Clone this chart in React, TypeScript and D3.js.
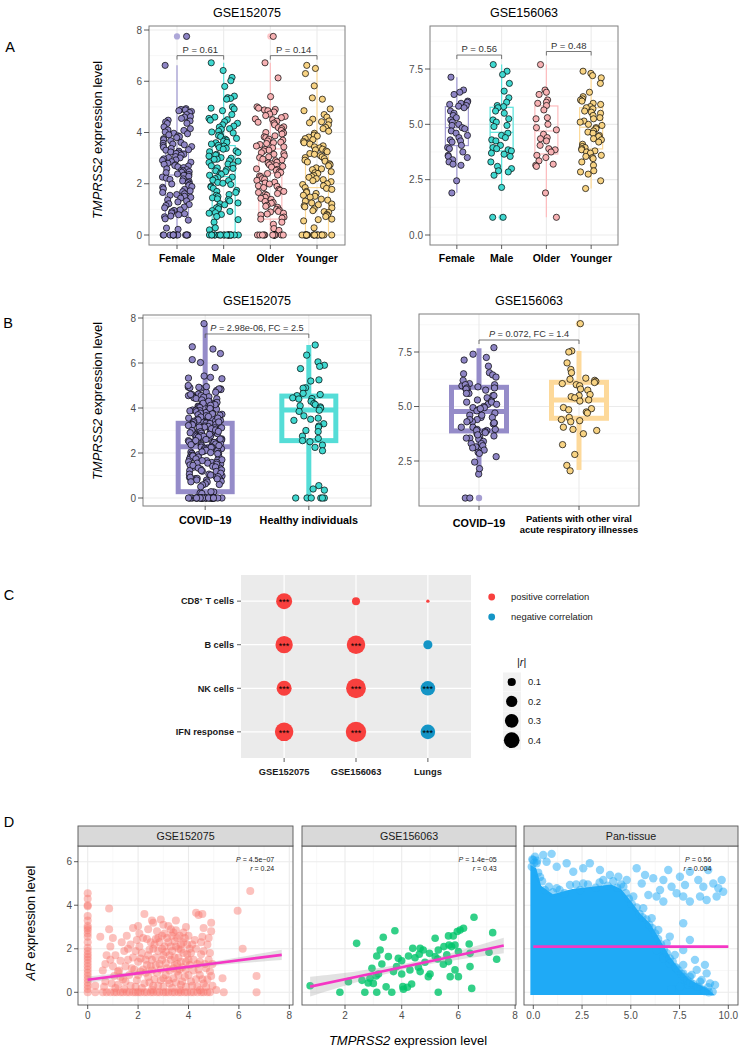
import { useEffect, useRef } from 'react';
import * as d3 from 'd3';

const FONT = "'Liberation Sans', Arial, Helvetica, sans-serif";

// ---------- A / B : TMPRSS2 expression by group ----------
const sexAgeGroups = ['Female', 'Male', 'Older', 'Younger'];

const female152075 = [7.75, 6.62, 4.93, 4.9, 4.88, 4.85, 4.82, 4.78, 4.7, 4.62, 4.6, 4.55, 4.48, 4.45, 4.41, 4.36, 4.35, 4.22, 4.15, 4.1, 4.08, 4.02, 3.97, 3.95, 3.91, 3.87, 3.84, 3.8, 3.76, 3.72, 3.68, 3.61, 3.58, 3.55, 3.52, 3.49, 3.45, 3.42, 3.38, 3.33, 3.31, 3.27, 3.24, 3.2, 3.18, 3.15, 3.12, 3.06, 3.02, 3.01, 2.97, 2.93, 2.91, 2.86, 2.84, 2.8, 2.76, 2.74, 2.71, 2.69, 2.66, 2.63, 2.58, 2.55, 2.52, 2.5, 2.47, 2.45, 2.43, 2.38, 2.36, 2.33, 2.29, 2.26, 2.22, 2.19, 2.17, 2.11, 2.08, 2.04, 1.99, 1.98, 1.93, 1.89, 1.86, 1.8, 1.78, 1.72, 1.69, 1.66, 1.61, 1.58, 1.55, 1.51, 1.47, 1.44, 1.37, 1.33, 1.29, 1.22, 1.19, 1.15, 1.09, 1.06, 0.98, 0.96, 0.91, 0.86, 0.83, 0.79, 0.74, 0.71, 0.63, 0.58, 0.27, 0.22, 0, 0, 0, 0, 0, 0, 0, 0, 0, 0, 0, 0, 0];
const male152075 = [6.72, 6.42, 6.15, 6.02, 5.8, 5.42, 5.36, 5.33, 5.3, 5.0, 4.95, 4.92, 4.85, 4.7, 4.6, 4.55, 4.5, 4.48, 4.42, 4.36, 4.3, 4.25, 4.21, 4.15, 4.12, 4.05, 4.02, 3.98, 3.9, 3.88, 3.84, 3.77, 3.74, 3.7, 3.66, 3.62, 3.6, 3.55, 3.5, 3.47, 3.41, 3.38, 3.35, 3.28, 3.25, 3.22, 3.15, 3.12, 3.08, 3.02, 3.0, 2.96, 2.95, 2.9, 2.88, 2.83, 2.77, 2.74, 2.7, 2.62, 2.6, 2.55, 2.5, 2.47, 2.4, 2.37, 2.33, 2.26, 2.24, 2.2, 2.14, 2.12, 2.05, 2.02, 1.97, 1.9, 1.87, 1.82, 1.74, 1.7, 1.66, 1.58, 1.55, 1.5, 1.45, 1.41, 1.38, 1.33, 1.25, 1.22, 1.18, 1.1, 1.06, 1.02, 0.95, 0.92, 0.87, 0.85, 0.8, 0.72, 0.6, 0.5, 0.28, 0.2, 0, 0, 0, 0, 0, 0, 0, 0, 0, 0, 0, 0, 0, 0, 0, 0, 0, 0, 0, 0];
const older152075 = [7.75, 6.72, 6.13, 5.4, 5.0, 4.95, 4.9, 4.88, 4.85, 4.8, 4.72, 4.66, 4.63, 4.58, 4.53, 4.5, 4.44, 4.4, 4.37, 4.3, 4.22, 4.19, 4.15, 4.08, 4.0, 3.98, 3.94, 3.87, 3.83, 3.8, 3.74, 3.7, 3.67, 3.62, 3.6, 3.57, 3.53, 3.47, 3.44, 3.4, 3.34, 3.31, 3.28, 3.21, 3.18, 3.15, 3.09, 3.05, 3.02, 2.96, 2.93, 2.9, 2.84, 2.81, 2.78, 2.74, 2.71, 2.68, 2.65, 2.58, 2.56, 2.52, 2.46, 2.44, 2.4, 2.34, 2.3, 2.27, 2.2, 2.17, 2.13, 2.06, 2.03, 1.99, 1.92, 1.9, 1.85, 1.78, 1.74, 1.7, 1.66, 1.62, 1.59, 1.55, 1.47, 1.43, 1.39, 1.31, 1.27, 1.24, 1.16, 1.12, 1.08, 1.0, 0.97, 0.92, 0.9, 0.85, 0.82, 0.78, 0.7, 0.66, 0.62, 0.5, 0.42, 0.25, 0.18, 0, 0, 0, 0, 0, 0, 0, 0, 0, 0, 0, 0, 0];
const younger152075 = [6.62, 6.5, 6.3, 5.82, 5.35, 5.3, 4.92, 4.85, 4.7, 4.6, 4.52, 4.45, 4.42, 4.38, 4.3, 4.2, 4.15, 4.05, 3.97, 3.9, 3.86, 3.82, 3.76, 3.72, 3.65, 3.6, 3.55, 3.48, 3.44, 3.4, 3.35, 3.32, 3.28, 3.25, 3.18, 3.15, 3.1, 3.05, 3.02, 2.98, 2.92, 2.88, 2.85, 2.78, 2.74, 2.7, 2.62, 2.58, 2.55, 2.47, 2.43, 2.4, 2.32, 2.28, 2.25, 2.2, 2.16, 2.12, 2.08, 2.0, 1.97, 1.92, 1.85, 1.82, 1.78, 1.7, 1.66, 1.62, 1.55, 1.51, 1.48, 1.4, 1.36, 1.32, 1.25, 1.21, 1.18, 1.14, 1.1, 1.06, 1.02, 0.95, 0.91, 0.88, 0.8, 0.76, 0.72, 0.62, 0.6, 0.55, 0.28, 0, 0, 0, 0, 0, 0, 0, 0, 0, 0, 0, 0, 0, 0, 0, 0, 0, 0];
// [lower whisker, Q1, median, Q3, upper whisker]
const box152075 = [[0, 0.74, 2.34, 3.29, 6.62], [0, 0, 2.28, 3.49, 6.72], [0, 0.62, 2.41, 3.36, 6.72], [0, 0, 1.85, 3.12, 6.62]];
const outliers152075 = [[7.75], [], [7.75], []];

const female156063 = [7.13, 6.55, 6.45, 6.35, 6.05, 6.0, 5.95, 5.9, 5.85, 5.82, 5.75, 5.6, 5.5, 5.4, 5.3, 5.2, 5.1, 5.0, 4.95, 4.85, 4.8, 4.7, 4.6, 4.5, 4.4, 4.3, 4.25, 4.2, 4.05, 3.95, 3.9, 3.75, 3.6, 3.55, 3.5, 3.4, 3.3, 3.2, 3.15, 2.45, 1.9];
const male156063 = [7.7, 7.4, 7.25, 6.85, 6.5, 6.2, 6.0, 5.85, 5.8, 5.75, 5.6, 5.5, 5.25, 5.2, 5.1, 4.95, 4.9, 4.6, 4.5, 4.4, 4.3, 4.25, 4.05, 3.95, 3.9, 3.85, 3.8, 3.7, 3.65, 3.55, 3.3, 3.1, 3.0, 2.9, 2.85, 2.7, 2.15, 0.8, 0.8];
const older156063 = [7.7, 6.55, 6.45, 6.35, 6.1, 6.0, 5.95, 5.85, 5.65, 5.3, 5.25, 5.0, 4.85, 4.75, 4.55, 4.4, 4.35, 4.25, 4.05, 3.9, 3.85, 3.75, 3.6, 3.5, 3.35, 3.2, 3.15, 3.1, 1.9, 0.8];
const younger156063 = [7.4, 7.3, 7.2, 7.1, 6.85, 6.45, 6.25, 6.15, 6.1, 6.05, 5.95, 5.9, 5.8, 5.75, 5.7, 5.6, 5.55, 5.5, 5.4, 5.3, 5.25, 5.15, 5.1, 5.0, 4.95, 4.85, 4.8, 4.7, 4.65, 4.6, 4.5, 4.45, 4.35, 4.3, 4.2, 4.1, 4.0, 3.95, 3.9, 3.85, 3.8, 3.75, 3.7, 3.6, 3.55, 3.5, 3.45, 3.3, 3.15, 2.9, 2.85, 2.75, 2.45, 2.1];
const box156063 = [[1.91, 4.04, 4.85, 5.8, 7.13], [2.15, 3.8, 4.64, 5.77, 7.7], [0.8, 3.66, 4.7, 5.83, 7.7], [2.1, 3.89, 4.87, 5.75, 7.42]];
const outliers156063 = [[], [0.8], [], []];

const groups152075 = ['COVID−19', 'Healthy individuals'];
const healthy152075 = [6.8, 6.35, 6.05, 5.9, 5.85, 5.75, 5.25, 5.2, 4.9, 4.88, 4.65, 4.6, 4.55, 4.45, 4.42, 4.4, 4.3, 4.2, 4.15, 4.1, 4.05, 4.0, 3.9, 3.85, 3.65, 3.55, 3.5, 3.45, 3.3, 3.2, 3.15, 3.0, 2.95, 2.75, 2.65, 2.55, 2.5, 2.35, 2.25, 2.1, 0.55, 0.4, 0.35, 0, 0, 0, 0, 0, 0];
const covid152075 = female152075.concat(male152075);
const boxCovid152075 = [[0, 0.28, 2.28, 3.32, 7.75], [0, 2.55, 3.91, 4.53, 6.8]];

const groups156063 = ['COVID−19', 'Patients with other viral acute respiratory illnesses'];
const patients156063 = [8.8, 7.55, 7.5, 7.0, 6.7, 6.55, 6.3, 6.25, 6.2, 6.15, 6.1, 6.05, 6.0, 5.95, 5.8, 5.75, 5.55, 5.5, 5.45, 5.4, 5.3, 5.25, 4.95, 4.9, 4.85, 4.75, 4.7, 4.5, 4.4, 4.35, 4.3, 4.05, 3.95, 3.9, 3.75, 3.25, 2.8, 2.3, 2.05];
const covid156063 = female156063.concat(male156063);
const boxCovid156063 = [[1.93, 3.88, 4.77, 5.88, 7.67], [2.09, 4.46, 5.3, 6.11, 7.55]];
const outliersCovid156063 = [[0.8], [8.8]];

// ---------- C : correlation bubbles ----------
const cellTypes = ['CD8+ T cells', 'B cells', 'NK cells', 'IFN response'];
const datasets = ['GSE152075', 'GSE156063', 'Lungs'];
const corrR = [
  [0.40, 0.09, 0.005],
  [0.47, 0.54, -0.12],
  [0.35, 0.62, -0.33],
  [0.54, 0.66, -0.33],
];
const corrStars = [
  ['***', '', ''],
  ['***', '***', ''],
  ['***', '***', '***'],
  ['***', '***', '***'],
];
const sizeBreaks = [0.1, 0.2, 0.3, 0.4];

// ---------- D : AR vs TMPRSS2 ----------
const scatter152075 = [
  [0, 4.55], [0, 4.3], [0, 4.0], [0, 3.95], [0, 3.5], [0, 3.3], [0, 3.05], [0, 2.95], [0, 2.85], [0, 2.7], [0, 2.55], [0, 2.3], [0, 2.05],
  [0, 1.9], [0, 1.75], [0, 1.62], [0, 1.5], [0, 1.35], [0, 1.2], [0, 1.05], [0, 0.9], [0, 0.75], [0, 0.6], [0, 0.45], [0, 0.3], [0, 0.15],
  [0, 0], [0.3, 0.3], [0.3, 0],
  [0.6, 0], [0.75, 0], [0.9, 0], [1.05, 0], [1.15, 0], [1.3, 0], [1.4, 0], [1.55, 0], [1.65, 0], [1.8, 0], [1.9, 0], [2.0, 0],
  [2.1, 0], [2.25, 0], [2.35, 0], [2.5, 0], [2.6, 0], [2.75, 0], [2.85, 0], [3.0, 0], [3.1, 0], [3.2, 0], [3.35, 0], [3.45, 0],
  [3.6, 0], [3.7, 0], [3.85, 0], [3.95, 0], [4.1, 0], [4.2, 0], [4.35, 0], [4.5, 0], [4.6, 0], [4.75, 0], [4.85, 0], [5.4, 0], [6.7, 0],
  [0.5, 2.55], [0.6, 1.0], [0.7, 0.5], [0.75, 1.7], [0.85, 3.85], [0.85, 2.9], [0.9, 2.1], [0.95, 0.4], [1.0, 1.2], [1.05, 0.75],
  [1.1, 1.7], [1.2, 0.35], [1.25, 1.0], [1.3, 1.45], [1.35, 2.3], [1.4, 0.6], [1.45, 1.9], [1.5, 1.2], [1.6, 2.0], [1.65, 0.8],
  [1.7, 0.3], [1.8, 2.95], [1.8, 1.6], [1.85, 1.05], [1.95, 2.4], [1.95, 0.55], [2.0, 1.4], [2.05, 2.7], [2.1, 0.95], [2.15, 1.8],
  [2.2, 1.05], [2.25, 3.6], [2.25, 0.4], [2.3, 1.5], [2.35, 2.45], [2.4, 0.7], [2.45, 1.95], [2.5, 1.2], [2.55, 3.3], [2.6, 3.2],
  [2.6, 0.3], [2.65, 2.2], [2.7, 1.6], [2.7, 2.45], [2.75, 0.9], [2.8, 2.5], [2.85, 1.3], [2.9, 0.55], [2.95, 2.0], [3.0, 1.7],
  [3.0, 3.1], [3.05, 2.7], [3.1, 0.8], [3.15, 1.1], [3.2, 3.05], [3.2, 2.3], [3.25, 0.4], [3.3, 2.9], [3.3, 1.5], [3.35, 1.9],
  [3.4, 2.75], [3.4, 0.65], [3.45, 1.25], [3.5, 2.85], [3.5, 2.1], [3.55, 0.95], [3.6, 1.6], [3.65, 2.6], [3.7, 0.35], [3.7, 1.95],
  [3.75, 1.15], [3.8, 2.75], [3.8, 2.3], [3.85, 0.7], [3.9, 1.4], [3.9, 3.0], [3.95, 1.75], [4.0, 1.5], [4.05, 2.0], [4.1, 0.5],
  [4.2, 1.0], [4.25, 2.4], [4.3, 3.65], [4.35, 1.3], [4.4, 3.55], [4.45, 0.8], [4.5, 1.75], [4.55, 3.6], [4.55, 2.55], [4.6, 2.95],
  [4.6, 0.4], [4.7, 1.1], [4.75, 2.2], [4.8, 1.5], [4.85, 0.95], [4.9, 3.2], [4.9, 2.8], [4.9, 0.75], [5.35, 0.65], [5.95, 3.75],
  [6.15, 2.0], [6.45, 4.65], [6.7, 0.75],
  [1.5, 0.5], [1.6, 1.5], [1.7, 2.2], [1.75, 1.1], [1.9, 0.25], [1.9, 1.9], [2.0, 0.8], [2.05, 2.1], [2.1, 1.55], [2.15, 0.2],
  [2.2, 2.5], [2.3, 0.9], [2.35, 1.25], [2.4, 1.7], [2.4, 2.9], [2.45, 0.45], [2.5, 2.3], [2.55, 1.0], [2.55, 1.5], [2.6, 2.0],
  [2.65, 0.6], [2.7, 1.25], [2.75, 2.8], [2.8, 0.3], [2.8, 1.9], [2.85, 2.3], [2.9, 1.05], [2.95, 1.5], [2.95, 2.6], [3.0, 0.25],
  [3.0, 0.65], [3.05, 2.1], [3.1, 1.35], [3.1, 1.85], [3.15, 2.5], [3.2, 0.55], [3.25, 1.0], [3.25, 1.7], [3.3, 2.1], [3.35, 0.2],
  [3.35, 2.6], [3.4, 1.1], [3.45, 1.6], [3.45, 2.35], [3.5, 0.45], [3.55, 1.3], [3.55, 2.5], [3.6, 0.8], [3.6, 2.0], [3.65, 1.05],
  [3.7, 1.4], [3.7, 2.2], [3.75, 0.5], [3.8, 1.8], [3.85, 2.5], [3.9, 0.25], [3.9, 1.05], [3.95, 2.2], [4.0, 0.8], [4.0, 2.6],
  [4.05, 1.25], [4.1, 1.8], [4.15, 0.3], [4.15, 2.2], [4.2, 1.5], [4.3, 0.6], [4.3, 2.0], [4.35, 0.25], [4.4, 1.05], [4.45, 1.4],
  [4.5, 2.3], [4.55, 0.6], [4.6, 1.9], [4.65, 1.3], [4.7, 0.25], [4.75, 0.6], [4.8, 2.5], [4.85, 1.8], [1.1, 0.2], [1.3, 0.7],
  [1.0, 2.5], [0.7, 1.3], [1.55, 2.6], [2.0, 3.05], [2.9, 3.35], [3.5, 3.3], [1.2, 0.95], [0.65, 0.25], [0.9, 1.5], [4.95, 1.3],
  [4.95, 0.3], [5.1, 0.1], [1.45, 0.15], [2.55, 0.12], [3.65, 0.12], [4.45, 0.1],
];
const scatter156063 = [
  [6.55, 3.45], [6.06, 2.86], [6.18, 2.94], [5.96, 2.79], [5.82, 2.59], [3.76, 2.83], [3.35, 2.53], [5.18, 2.48], [5.65, 2.59],
  [5.67, 2.17], [5.49, 2.1], [5.76, 2.1], [5.88, 2.17], [6.38, 2.22], [7.21, 2.74], [4.65, 2.02], [4.39, 2.02], [4.76, 1.94],
  [5.29, 1.94], [3.24, 1.94], [3.12, 1.67], [3.53, 1.64], [3.88, 1.56], [4.0, 1.45], [4.24, 1.67], [4.47, 1.59], [4.62, 1.75],
  [4.98, 1.79], [5.18, 1.64], [5.59, 1.72], [6.0, 1.87], [6.41, 1.79], [7.08, 1.84], [7.35, 1.52], [4.82, 1.38], [5.27, 1.53],
  [5.65, 1.41], [5.47, 1.29], [4.59, 1.15], [3.82, 1.18], [3.71, 0.95], [4.0, 0.84], [4.29, 1.03], [4.65, 0.95], [5.0, 0.84],
  [4.94, 0.72], [5.88, 1.03], [6.41, 1.18], [5.71, 0.72], [6.0, 0.72], [2.88, 0.64], [3.18, 0.84], [3.0, 0.41], [4.04, 0.26],
  [4.35, 0.38], [4.2, 0.23], [3.65, 0.0], [4.06, 0.14], [5.29, 0.0], [6.47, 0.18], [3.12, 0.0], [2.41, 2.25], [0.77, 0.3],
  [1.82, 0.0], [2.12, 0.49], [2.7, 0.0], [2.82, 0.43], [2.95, 1.1], [3.1, 0.75], [2.6, 0.55], [3.3, 1.3], [3.45, 0.25],
];
// dense core of the pan-tissue cloud: upper edge of the solid region
const panCoreX = [-0.15, -0.15, 0.15, 0.4, 1, 2, 3, 4, 4.5, 5, 5.5, 6, 6.5, 7, 7.5, 8, 8.5, 9, 9.3];
const panCoreTop = [-0.12, 5.85, 5.7, 4.9, 4.5, 4.75, 4.85, 4.95, 4.75, 4.2, 3.6, 3.15, 2.4, 1.65, 1.05, 0.6, 0.35, 0.12, -0.12];
const panOutskirts = [
  [0.09, 6.23], [0.51, 6.31], [0.94, 6.36], [0.17, 5.93], [0.68, 6.0], [1.2, 5.77], [1.71, 5.93], [2.05, 5.54], [2.56, 5.7],
  [2.9, 5.93], [3.42, 5.62], [3.93, 5.39], [4.36, 5.31], [4.79, 5.16], [5.3, 5.7], [5.73, 5.39], [5.56, 5.0], [6.15, 5.24],
  [6.67, 5.16], [6.92, 5.62], [7.09, 4.85], [7.52, 5.31], [7.78, 4.93], [8.03, 5.54], [8.46, 5.16], [8.72, 4.85], [8.97, 5.62],
  [9.23, 5.0], [9.49, 4.78], [9.66, 5.16], [8.55, 4.4], [8.89, 4.24], [8.03, 4.17], [7.69, 4.4], [6.67, 4.17], [6.5, 4.7],
  [7.35, 4.55], [9.4, 4.4], [9.74, 4.62], [6.32, 4.4], [5.9, 4.47], [7.69, 3.17], [7.0, 2.56], [8.03, 2.4], [7.69, 1.94],
  [8.29, 1.49], [8.8, 1.26], [8.38, 1.03], [8.89, 0.87], [9.32, 0.34], [9.06, 0.41], [8.63, 0.57], [8.03, 0.72], [7.69, 0.87],
  [7.35, 1.1], [7.0, 1.33], [6.67, 1.56], [6.32, 1.94], [8.46, 0.26], [7.95, 0.34], [7.52, 0.26], [7.09, 0.14], [8.72, 0.11],
  [1.2, 4.78], [1.88, 4.93], [2.56, 5.0], [3.59, 5.16], [4.62, 4.85], [5.13, 4.4], [5.64, 3.86], [6.07, 3.4], [6.41, 2.86],
  [6.84, 2.25], [7.26, 1.72], [7.69, 1.26], [8.12, 0.8], [8.55, 0.49], [8.97, 0.23], [-0.08, 5.77], [0, 6.08], [0.35, 5.3],
  [0.25, 5.5], [0.45, 5.1], [0.6, 4.7], [0.8, 4.85], [1.0, 4.6], [1.35, 4.7], [1.6, 4.55], [2.2, 4.95], [2.4, 4.7], [2.8, 4.95],
  [3.2, 4.8], [3.4, 5.05], [3.8, 4.9], [4.1, 5.1], [4.3, 4.8], [4.5, 4.95], [4.75, 4.55], [4.9, 4.3], [5.05, 4.05], [5.3, 3.9],
  [5.45, 3.6], [5.6, 3.45], [5.8, 3.35], [5.95, 3.1], [6.1, 2.95], [6.25, 2.7], [6.4, 2.45], [6.55, 2.2], [6.7, 1.95], [6.85, 1.8],
  [7.0, 1.55], [7.15, 1.4], [7.3, 1.15], [7.45, 1.0], [7.6, 0.85], [7.75, 0.7], [7.9, 0.55], [8.05, 0.45], [8.2, 0.38], [8.4, 0.25],
  [8.6, 0.15], [8.8, 0.05], [9.0, 0.0], [9.2, 0.02], [0.05, 5.95], [-0.05, 6.1], [0.2, 6.05],
];
// fitted lines with confidence half-widths
const fit152075 = { x: [0, 2.5, 5, 7.7], y: [0.58, 0.95, 1.32, 1.72], ci: [0.15, 0.07, 0.1, 0.24] };
const fit156063 = { x: [0.77, 2.5, 4.5, 6, 7.6], y: [0.26, 0.74, 1.29, 1.7, 2.15], ci: [0.45, 0.24, 0.12, 0.2, 0.36] };
const fitPan = { x: [0, 10], y: [2.1, 2.1], ci: [0.03, 0.03] };

const jitter = (i: number, k: number) => {
  const s = Math.sin(i * 127.1 + k * 311.7) * 43758.5453;
  return s - Math.floor(s) - 0.5;
};

function rich(g: any, x: number, y: number, parts: [string, boolean][], size: number, anchor = 'middle', fill = '#000') {
  const t = g.append('text').attr('x', x).attr('y', y).attr('text-anchor', anchor)
    .attr('font-family', FONT).attr('font-size', size).attr('fill', fill);
  parts.forEach(([s, it]) => t.append('tspan').text(s).attr('font-style', it ? 'italic' : 'normal'));
  return t;
}

function boxPanel(root: any, o: any) {
  const g = root.append('g');
  const x = d3.scalePoint<string>().domain(o.cats).range([o.left, o.right]).padding(0.6);
  const y = d3.scaleLinear().domain(o.yDomain).range(o.yRange);
  g.append('rect').attr('x', o.left).attr('y', o.top).attr('width', o.right - o.left).attr('height', o.bottom - o.top).attr('fill', '#fff');
  o.yMinor.forEach((v: number) => g.append('line').attr('x1', o.left).attr('x2', o.right).attr('y1', y(v)).attr('y2', y(v))
    .attr('stroke', '#F4F4F4').attr('stroke-width', 0.6));
  o.yTicks.forEach((v: number) => g.append('line').attr('x1', o.left).attr('x2', o.right).attr('y1', y(v)).attr('y2', y(v))
    .attr('stroke', '#EBEBEB').attr('stroke-width', 1.1));
  o.cats.forEach((c: string) => g.append('line').attr('x1', x(c)).attr('x2', x(c)).attr('y1', o.top).attr('y2', o.bottom)
    .attr('stroke', '#EBEBEB').attr('stroke-width', 1.1));
  o.cats.forEach((c: string, i: number) => {
    const [lo, q1, med, q3, hi] = o.stats[i];
    const cx = x(c)!;
    const col = o.lines[i];
    const sw = o.boxSW;
    g.append('line').attr('x1', cx).attr('x2', cx).attr('y1', y(q3)).attr('y2', y(hi)).attr('stroke', col).attr('stroke-width', sw);
    g.append('line').attr('x1', cx).attr('x2', cx).attr('y1', y(q1)).attr('y2', y(lo)).attr('stroke', col).attr('stroke-width', sw);
    g.append('rect').attr('x', cx - o.boxW / 2).attr('y', y(q3)).attr('width', o.boxW).attr('height', y(q1) - y(q3))
      .attr('fill', 'none').attr('stroke', col).attr('stroke-width', sw);
    g.append('line').attr('x1', cx - o.boxW / 2).attr('x2', cx + o.boxW / 2).attr('y1', y(med)).attr('y2', y(med))
      .attr('stroke', col).attr('stroke-width', sw);
    (o.outliers[i] || []).forEach((v: number) => g.append('circle').attr('cx', cx).attr('cy', y(v)).attr('r', o.r)
      .attr('fill', col).attr('opacity', 0.85));
  });
  o.cats.forEach((c: string, i: number) => {
    const cx = x(c)!;
    o.values[i].forEach((v: number, j: number) => {
      g.append('circle').attr('cx', cx + jitter(j, i + o.seed) * 2 * o.jit).attr('cy', y(v)).attr('r', o.r)
        .attr('fill', o.fills[i]).attr('stroke', '#000').attr('stroke-width', 0.7);
    });
  });
  g.append('rect').attr('x', o.left).attr('y', o.top).attr('width', o.right - o.left).attr('height', o.bottom - o.top)
    .attr('fill', 'none').attr('stroke', '#7F7F7F').attr('stroke-width', 1);
  o.yTicks.forEach((v: number) => {
    if (y(v) < o.top || y(v) > o.bottom) return;
    g.append('line').attr('x1', o.left - 5).attr('x2', o.left).attr('y1', y(v)).attr('y2', y(v)).attr('stroke', '#333').attr('stroke-width', 0.8);
    g.append('text').attr('x', o.left - 7).attr('y', y(v) + 3.5).attr('text-anchor', 'end').attr('font-family', FONT)
      .attr('font-size', 10).attr('fill', '#4D4D4D').text(o.fmt(v));
  });
  o.cats.forEach((c: string, i: number) => {
    g.append('line').attr('x1', x(c)).attr('x2', x(c)).attr('y1', o.bottom).attr('y2', o.bottom + 4).attr('stroke', '#333').attr('stroke-width', 0.8);
    o.labels[i].forEach((ln: string, k: number) => g.append('text').attr('x', x(c)).attr('y', o.labelY[i] + k * o.labelLH)
      .attr('text-anchor', 'middle').attr('font-family', FONT).attr('font-weight', 'bold')
      .attr('font-size', o.labelSize[i]).attr('fill', '#000').text(ln));
  });
  o.brackets.forEach((b: any) => {
    const x1 = x(o.cats[b.from])!, x2 = x(o.cats[b.to])!, by = y(b.v);
    g.append('path').attr('d', `M${x1},${by + 4}V${by}H${x2}V${by + 4}`).attr('fill', 'none')
      .attr('stroke', '#555').attr('stroke-width', 0.8);
    rich(g, (x1 + x2) / 2, by - 3, b.label, b.size, 'middle', '#333');
  });
  g.append('text').attr('x', (o.left + o.right) / 2).attr('y', o.titleY).attr('text-anchor', 'middle')
    .attr('font-family', FONT).attr('font-size', 12.5).attr('fill', '#000').text(o.title);
}

function scatterPanel(root: any, o: any, yS: any) {
  const g = root.append('g');
  const x = d3.scaleLinear().domain(o.xDomain).range(o.xRange);
  const top = 846, bottom = 1005;
  g.append('rect').attr('x', o.left).attr('y', top).attr('width', o.right - o.left).attr('height', bottom - top).attr('fill', '#fff');
  [1, 3, 5].forEach(v => g.append('line').attr('x1', o.left).attr('x2', o.right).attr('y1', yS(v)).attr('y2', yS(v))
    .attr('stroke', '#F4F4F4').attr('stroke-width', 0.6));
  o.xMinor.forEach((v: number) => g.append('line').attr('x1', x(v)).attr('x2', x(v)).attr('y1', top).attr('y2', bottom)
    .attr('stroke', '#F4F4F4').attr('stroke-width', 0.6));
  [0, 2, 4, 6].forEach(v => g.append('line').attr('x1', o.left).attr('x2', o.right).attr('y1', yS(v)).attr('y2', yS(v))
    .attr('stroke', '#EBEBEB').attr('stroke-width', 1.1));
  o.xTicks.forEach((v: number) => g.append('line').attr('x1', x(v)).attr('x2', x(v)).attr('y1', top).attr('y2', bottom)
    .attr('stroke', '#EBEBEB').attr('stroke-width', 1.1));
  const clipId = 'clip-' + o.id;
  root.append('clipPath').attr('id', clipId).append('rect').attr('x', o.left).attr('y', top)
    .attr('width', o.right - o.left).attr('height', bottom - top);
  const inner = g.append('g').attr('clip-path', `url(#${clipId})`);
  if (o.coreX) {
    const area = d3.area<number>().x((_, i) => x(o.coreX[i])).y0(() => yS(-0.12)).y1(d => yS(d));
    inner.append('path').datum(o.coreTop).attr('d', area).attr('fill', o.color);
  }
  o.points.forEach(([px, py]: number[]) => inner.append('circle').attr('cx', x(px)).attr('cy', yS(py)).attr('r', o.r)
    .attr('fill', o.color).attr('opacity', o.alpha));
  const band = d3.area<number>().curve(d3.curveNatural).x((_, i) => x(o.fit.x[i]))
    .y0((d, i) => yS(d - o.fit.ci[i])).y1((d, i) => yS(d + o.fit.ci[i]));
  inner.append('path').datum(o.fit.y).attr('d', band).attr('fill', '#9E9E9E').attr('opacity', 0.3);
  const line = d3.line<number>().x((_, i) => x(o.fit.x[i])).y(d => yS(d));
  inner.append('path').datum(o.fit.y).attr('d', line).attr('fill', 'none').attr('stroke', '#F536C4').attr('stroke-width', 2.6);
  g.append('rect').attr('x', o.left).attr('y', top).attr('width', o.right - o.left).attr('height', bottom - top)
    .attr('fill', 'none').attr('stroke', '#555').attr('stroke-width', 0.9);
  g.append('rect').attr('x', o.left).attr('y', 826).attr('width', o.right - o.left).attr('height', 20)
    .attr('fill', '#D9D9D9').attr('stroke', '#555').attr('stroke-width', 0.9);
  g.append('text').attr('x', (o.left + o.right) / 2).attr('y', 840).attr('text-anchor', 'middle').attr('font-family', FONT)
    .attr('font-size', 10.7).attr('fill', '#1A1A1A').text(o.strip);
  o.xTicks.forEach((v: number) => {
    g.append('line').attr('x1', x(v)).attr('x2', x(v)).attr('y1', bottom).attr('y2', bottom + 4).attr('stroke', '#333').attr('stroke-width', 0.8);
    g.append('text').attr('x', x(v)).attr('y', bottom + 14).attr('text-anchor', 'middle').attr('font-family', FONT)
      .attr('font-size', 10).attr('fill', '#4D4D4D').text(o.fmt(v));
  });
  if (o.showY) {
    [0, 2, 4, 6].forEach(v => {
      g.append('line').attr('x1', o.left - 4).attr('x2', o.left).attr('y1', yS(v)).attr('y2', yS(v)).attr('stroke', '#333').attr('stroke-width', 0.8);
      g.append('text').attr('x', o.left - 6).attr('y', yS(v) + 3.5).attr('text-anchor', 'end').attr('font-family', FONT)
        .attr('font-size', 10).attr('fill', '#4D4D4D').text(v);
    });
  }
  rich(g, x(o.annX), top + 15.5, [['P', true], [o.pText, false]], 7, 'end', '#1A1A1A');
  rich(g, x(o.annX), top + 24.5, [['r', true], [o.rText, false]], 7, 'end', '#1A1A1A');
}

export default function App() {
  const ref = useRef<SVGSVGElement>(null);
  useEffect(() => {
    if (!ref.current) return;
    const svg = d3.select(ref.current);
    svg.selectAll('*').remove();
    svg.append('rect').attr('width', 740).attr('height', 1054).attr('fill', '#fff');

    const groupFill = ['#8E85C5', '#3FD8D0', '#F7B1B3', '#F8D383'];
    const groupLine = ['#A099D2', '#58E2DB', '#FDBCBE', '#FDDA98'];
    const letter = (t: string, x: number, y: number) => svg.append('text').attr('x', x).attr('y', y).attr('text-anchor', 'middle')
      .attr('font-family', FONT).attr('font-size', 14.5).attr('fill', '#000').text(t);
    letter('A', 10, 52); letter('B', 8, 328); letter('C', 9, 600); letter('D', 9, 827);

    rich(svg, 0, 0, [['TMPRSS2', true], [' expression level', false]], 13).attr('transform', 'translate(102,140) rotate(-90)');
    rich(svg, 0, 0, [['TMPRSS2', true], [' expression level', false]], 13).attr('transform', 'translate(102,401) rotate(-90)');

    boxPanel(svg, {
      left: 149, right: 345, top: 26, bottom: 245, yDomain: [0, 8], yRange: [235, 30],
      yTicks: [0, 2, 4, 6, 8], yMinor: [1, 3, 5, 7], fmt: d3.format('d'),
      cats: sexAgeGroups, labels: sexAgeGroups.map(s => [s]), labelY: [262, 262, 262, 262], labelLH: 0, labelSize: [10.5, 10.5, 10.5, 10.5],
      values: [female152075, male152075, older152075, younger152075], stats: box152075, outliers: outliers152075,
      fills: groupFill, lines: groupLine, boxW: 23, boxSW: 1.2, jit: 15, r: 3.1, seed: 1,
      title: 'GSE152075', titleY: 16.5,
      brackets: [{ from: 0, to: 1, v: 7.0, size: 9.5, label: [['P = 0.61', false]] }, { from: 2, to: 3, v: 7.0, size: 9.5, label: [['P = 0.14', false]] }],
    });
    boxPanel(svg, {
      left: 430, right: 618, top: 26, bottom: 245, yDomain: [0, 7.5], yRange: [235, 69],
      yTicks: [0, 2.5, 5, 7.5], yMinor: [1.25, 3.75, 6.25, 8.75], fmt: d3.format('.1f'),
      cats: sexAgeGroups, labels: sexAgeGroups.map(s => [s]), labelY: [262, 262, 262, 262], labelLH: 0, labelSize: [10.5, 10.5, 10.5, 10.5],
      values: [female156063, male156063, older156063, younger156063], stats: box156063, outliers: outliers156063,
      fills: groupFill, lines: groupLine, boxW: 23, boxSW: 1.2, jit: 11, r: 3.1, seed: 7,
      title: 'GSE156063', titleY: 16.5,
      brackets: [{ from: 0, to: 1, v: 8.13, size: 9.5, label: [['P = 0.56', false]] }, { from: 2, to: 3, v: 8.29, size: 9.5, label: [['P = 0.48', false]] }],
    });
    boxPanel(svg, {
      left: 143, right: 371, top: 315, bottom: 506, yDomain: [0, 8], yRange: [498, 318],
      yTicks: [0, 2, 4, 6, 8], yMinor: [1, 3, 5, 7], fmt: d3.format('d'),
      cats: groups152075, labels: [['COVID−19'], ['Healthy individuals']], labelY: [524, 524], labelLH: 0, labelSize: [10.8, 10.8],
      values: [covid152075, healthy152075], stats: boxCovid152075, outliers: [[], []],
      fills: [groupFill[0], groupFill[1]], lines: ['#958CC9', '#55DDD7'], boxW: 54, boxSW: 5, jit: 17, r: 3.2, seed: 13,
      title: 'GSE152075', titleY: 304.5,
      brackets: [{ from: 0, to: 1, v: 7.29, size: 9.2, label: [['P', true], [' = 2.98e-06,  FC = 2.5', false]] }],
    });
    boxPanel(svg, {
      left: 419, right: 639, top: 314, bottom: 506, yDomain: [2.5, 7.5], yRange: [461, 352],
      yTicks: [2.5, 5, 7.5], yMinor: [1.25, 3.75, 6.25, 8.75], fmt: d3.format('.1f'),
      cats: groups156063, labels: [['COVID−19'], ['Patients with other viral', 'acute respiratory illnesses']],
      labelY: [527, 521.5], labelLH: 11, labelSize: [10.8, 9.4],
      values: [covid156063, patients156063], stats: boxCovid156063, outliers: outliersCovid156063,
      fills: [groupFill[0], groupFill[3]], lines: ['#958CC9', '#FDD99A'], boxW: 55, boxSW: 5, jit: 18, r: 3.2, seed: 21,
      title: 'GSE156063', titleY: 304.5,
      brackets: [{ from: 0, to: 1, v: 8.05, size: 9.2, label: [['P', true], [' = 0.072,  FC = 1.4', false]] }],
    });

    // ---------- C ----------
    const cg = svg.append('g');
    const cx = d3.scalePoint<string>().domain(datasets).range([241, 471]).padding(0.6);
    const cy = d3.scalePoint<string>().domain(cellTypes).range([575, 758]).padding(0.6);
    const area = d3.scaleLinear().domain([0.1, 0.4]).range([17.6, 64]);
    const rOf = (v: number) => Math.sqrt(Math.max(1, area(Math.abs(v))));
    cg.append('rect').attr('x', 241).attr('y', 575).attr('width', 230).attr('height', 183).attr('fill', '#EBEBEB');
    datasets.forEach(d => cg.append('line').attr('x1', cx(d)).attr('x2', cx(d)).attr('y1', 575).attr('y2', 758).attr('stroke', '#fff').attr('stroke-width', 1.2));
    cellTypes.forEach(c => cg.append('line').attr('x1', 241).attr('x2', 471).attr('y1', cy(c)).attr('y2', cy(c)).attr('stroke', '#fff').attr('stroke-width', 1.2));
    cellTypes.forEach((c, i) => datasets.forEach((d, j) => {
      const v = corrR[i][j];
      cg.append('circle').attr('cx', cx(d)).attr('cy', cy(c)).attr('r', rOf(v)).attr('fill', v >= 0 ? '#F8403E' : '#1495C6');
      if (corrStars[i][j]) cg.append('text').attr('x', cx(d)).attr('y', cy(c)! + 4.2).attr('text-anchor', 'middle')
        .attr('font-family', FONT).attr('font-size', 9).attr('fill', '#000').text(corrStars[i][j]);
    }));
    cellTypes.forEach(c => {
      cg.append('line').attr('x1', 237).attr('x2', 241).attr('y1', cy(c)).attr('y2', cy(c)).attr('stroke', '#333').attr('stroke-width', 0.8);
      const t = cg.append('text').attr('x', 234).attr('y', cy(c)! + 3.3).attr('text-anchor', 'end').attr('font-family', FONT)
        .attr('font-weight', 'bold').attr('font-size', 9.2).attr('fill', '#1A1A1A');
      if (c.startsWith('CD8+')) {
        t.append('tspan').text('CD8');
        t.append('tspan').text('+').attr('font-size', 6).attr('dy', -3.5);
        t.append('tspan').text(' T cells').attr('dy', 3.5);
      } else t.text(c);
    });
    datasets.forEach(d => {
      cg.append('line').attr('x1', cx(d)).attr('x2', cx(d)).attr('y1', 758).attr('y2', 762).attr('stroke', '#333').attr('stroke-width', 0.8);
      cg.append('text').attr('x', cx(d)).attr('y', 774.5).attr('text-anchor', 'middle').attr('font-family', FONT)
        .attr('font-weight', 'bold').attr('font-size', 9.3).attr('fill', '#1A1A1A').text(d);
    });
    [['positive correlation', '#F8403E'], ['negative correlation', '#1495C6']].forEach(([lab, col], i) => {
      cg.append('circle').attr('cx', 491.7).attr('cy', 597 + i * 20).attr('r', 3.4).attr('fill', col);
      cg.append('text').attr('x', 511).attr('y', 600.3 + i * 20).attr('font-family', FONT).attr('font-size', 9.4).attr('fill', '#1A1A1A').text(lab);
    });
    rich(cg, 517, 666, [['|', false], ['r', true], ['|', false]], 11, 'start', '#1A1A1A');
    sizeBreaks.forEach((v, i) => {
      const ky = 682 + i * 19.4;
      cg.append('rect').attr('x', 503).attr('y', ky - 9.5).attr('width', 18).attr('height', 19).attr('fill', '#F2F2F2');
      cg.append('circle').attr('cx', 511.7).attr('cy', ky).attr('r', rOf(v) * 0.98).attr('fill', '#000');
      cg.append('text').attr('x', 528).attr('y', ky + 3.4).attr('font-family', FONT).attr('font-size', 9.4).attr('fill', '#1A1A1A').text(v);
    });

    // ---------- D ----------
    const yD = d3.scaleLinear().domain([0, 6]).range([992.3, 861.7]);
    scatterPanel(svg, {
      id: 'd1', left: 78, right: 293, xDomain: [0, 8], xRange: [87.7, 289.3], xTicks: [0, 2, 4, 6, 8], xMinor: [1, 3, 5, 7],
      fmt: d3.format('d'), points: scatter152075, color: '#F8766D', alpha: 0.45, r: 4, fit: fit152075,
      strip: 'GSE152075', showY: true, annX: 7.4, pText: ' = 4.5e−07', rText: ' = 0.24',
    }, yD);
    scatterPanel(svg, {
      id: 'd2', left: 302, right: 516, xDomain: [0, 8], xRange: [288.3, 515.1], xTicks: [2, 4, 6, 8], xMinor: [1, 3, 5, 7],
      fmt: d3.format('d'), points: scatter156063, color: '#00C46A', alpha: 0.8, r: 3.8, fit: fit156063,
      strip: 'GSE156063', showY: false, annX: 7.35, pText: ' = 1.4e−05', rText: ' = 0.43',
    }, yD);
    scatterPanel(svg, {
      id: 'd3', left: 524, right: 738, xDomain: [0, 10], xRange: [533.3, 728.3], xTicks: [0, 2.5, 5, 7.5, 10], xMinor: [1.25, 3.75, 6.25, 8.75],
      fmt: d3.format('.1f'), points: panOutskirts, coreX: panCoreX, coreTop: panCoreTop, color: '#1FAAF6', alpha: 0.5, r: 4.2, fit: fitPan,
      strip: 'Pan-tissue', showY: false, annX: 9.13, pText: ' =  0.56', rText: ' = 0.004',
    }, yD);
    rich(svg, 408, 1045, [['TMPRSS2', true], [' expression level', false]], 13);
    rich(svg, 0, 0, [['AR', true], [' expression level', false]], 13).attr('transform', 'translate(35,923) rotate(-90)');
  }, []);
  return <svg ref={ref} width={740} height={1054} style={{ position: 'absolute', left: 0, top: 0 }} />;
}
